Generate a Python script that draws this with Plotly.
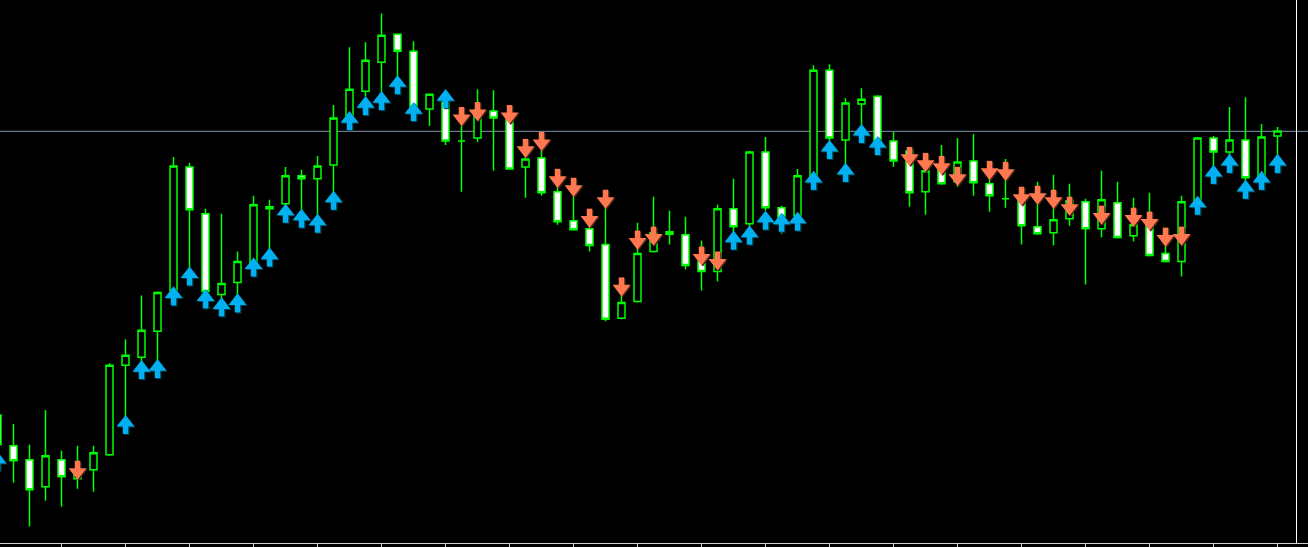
import plotly.graph_objects as go

# ---- data (price units) ----
candle_index = list(range(81))
opens = [128, 97, 83, 56, 83, 64, 73, 88, 178, 186, 212, 253, 377, 330, 249, 261, 281, 337, 340, 368,
         365, 379, 428, 453, 482, 510, 493, 435, 449, 403, 406, 433, 426, 377, 386, 352, 323, 315, 299, 225,
         242, 292, 312, 309, 282, 272, 335, 320, 392, 336, 328, 368, 474, 404, 440, 448, 403, 393, 352, 379,
         362, 383, 360, 345, 345, 317, 311, 325, 342, 315, 341, 308, 323, 290, 282, 342, 406, 392, 404, 367, 408]
highs = [133, 119, 98, 133, 92, 97, 97, 180, 204, 248, 252, 387, 381, 335, 330, 292, 348, 344, 377, 374,
         388, 439, 497, 502, 531, 511, 503, 450, 452, 421, 455, 454, 433, 393, 400, 365, 355, 325, 340, 255,
         321, 347, 333, 327, 303, 339, 365, 393, 407, 338, 375, 479, 480, 446, 456, 449, 412, 397, 385, 399,
         406, 410, 369, 385, 350, 362, 369, 360, 345, 373, 362, 346, 351, 305, 348, 407, 408, 437, 447, 420, 417]
lows = [93, 60, 16, 42, 36, 54, 51, 87, 113, 177, 177, 249, 273, 249, 243, 248, 279, 293, 337, 333,
        329, 352, 425, 448, 450, 465, 423, 418, 399, 352, 402, 373, 374, 346, 348, 319, 313, 292, 222, 224,
        241, 291, 299, 274, 253, 262, 309, 315, 333, 310, 327, 365, 403, 379, 418, 400, 377, 337, 329, 359,
        357, 348, 332, 336, 299, 309, 298, 318, 259, 306, 305, 302, 287, 281, 267, 341, 370, 385, 360, 365, 385]
closes = [98, 82, 53, 87, 66, 71, 90, 178, 188, 213, 251, 378, 334, 252, 260, 282, 339, 335, 368, 365,
          378, 426, 455, 484, 509, 493, 437, 450, 403, 403, 434, 426, 375, 385, 351, 322, 314, 298, 224, 241,
          290, 311, 309.5, 278, 272, 335, 317, 392, 336, 325, 368, 474, 406, 441, 445, 402, 383, 351, 373, 360,
          382, 361, 348, 345, 318, 310, 324, 343, 315, 344, 306, 319, 288, 282, 342, 406, 392, 404, 366, 407, 413]

up_arrow_index = [0, 8, 9, 10, 11, 12, 13, 14, 15, 16, 17, 18, 19, 20, 21, 22, 23, 24, 25, 26, 28,
                  46, 47, 48, 49, 50, 51, 52, 53, 54, 55, 75, 76, 77, 78, 79, 80]
up_arrow_value = [91, 128, 183, 184, 257, 277, 254, 246, 250, 286, 296, 340, 335, 330, 353, 433, 448, 453, 469, 442, 455,
                  313, 318, 333, 331, 332, 373, 404, 381, 420, 408, 348, 379, 390, 364, 373, 390]
down_arrow_index = [5, 29, 30, 32, 33, 34, 35, 36, 37, 38, 39, 40, 41, 44, 45,
                    57, 58, 59, 60, 62, 63, 64, 65, 66, 67, 69, 71, 72, 73, 74]
down_arrow_value = [63, 418, 423, 420, 386, 393, 356, 347, 316, 335, 247, 294, 298, 278, 273,
                    378, 372, 369, 358, 364, 363, 338, 339, 335, 328, 319, 317, 313, 297, 298]

level_price = 412.7
tick_candles = list(range(4, 81, 4))

# ---- style ----
BG = "#000000"
CANDLE_LINE = "#00FF00"
UP_COLOR = "#00B0F0"
UP_SHADOW = "#063A4A"
DOWN_COLOR = "#FF7850"
DOWN_SHADOW = "#4A2418"
HEAD_SIZE = 15.5
HEAD_OFF = 7.7
SHAFT_OFF = 13.8
SHAFT_SIZE = 7.5
SHADOW_DX = 0.08   # ~1 px in candle units
SHADOW_DY = 1.0

fig = go.Figure()
fig.add_trace(go.Candlestick(
    x=candle_index, open=opens, high=highs, low=lows, close=closes,
    increasing=dict(line=dict(color=CANDLE_LINE, width=1.5), fillcolor="#000000"),
    decreasing=dict(line=dict(color=CANDLE_LINE, width=1.5), fillcolor="#FFFFFF"),
    whiskerwidth=0, hoverinfo="skip", showlegend=False,
))


def add_arrows(idx, vals, direction, color, shadow):
    sgn = -1 if direction == "up" else 1
    head_sym = "triangle-up" if direction == "up" else "triangle-down"
    for dx, dy, col in ((SHADOW_DX, -SHADOW_DY, shadow), (0, 0, color)):
        xs = [i + dx for i in idx]
        fig.add_trace(go.Scatter(
            x=xs, y=[v + sgn * SHAFT_OFF + dy for v in vals], mode="markers",
            marker=dict(symbol="line-ns", size=SHAFT_SIZE, line=dict(color=col, width=5.5)),
            hoverinfo="skip", showlegend=False))
        fig.add_trace(go.Scatter(
            x=xs, y=[v + sgn * HEAD_OFF + dy for v in vals], mode="markers",
            marker=dict(symbol=head_sym, size=HEAD_SIZE, color=col, line=dict(width=0)),
            hoverinfo="skip", showlegend=False))


add_arrows(up_arrow_index, up_arrow_value, "up", UP_COLOR, UP_SHADOW)
add_arrows(down_arrow_index, down_arrow_value, "down", DOWN_COLOR, DOWN_SHADOW)

# horizontal level line
fig.add_shape(type="line", xref="paper", x0=0, x1=1, yref="y", y0=level_price, y1=level_price,
              line=dict(color="#8496AE", width=1), layer="below")
# right-side vertical separator
fig.add_shape(type="line", xref="paper", x0=1296.5 / 1308, x1=1296.5 / 1308, yref="paper", y0=0, y1=1,
              line=dict(color="#FFFFFF", width=1))

fig.update_layout(
    width=1308, height=547,
    margin=dict(l=0, r=0, t=0, b=2),
    paper_bgcolor=BG, plot_bgcolor=BG,
    boxgap=0.375,
    xaxis=dict(range=[0.15625, 0.15625 + 1308 / 16], rangeslider=dict(visible=False), showgrid=False,
               zeroline=False, showline=True, linecolor="#D0D0D0", linewidth=1,
               tickmode="array", tickvals=tick_candles, ticks="outside", ticklen=4,
               tickcolor="#D0D0D0", showticklabels=False, fixedrange=True),
    yaxis=dict(range=[-0.5, 544.5], visible=False, fixedrange=True),
    showlegend=False,
)

fig.write_html("out.html", config={"displayModeBar": False},
               post_script="document.body.style.margin='0';document.body.style.overflow='hidden';")
